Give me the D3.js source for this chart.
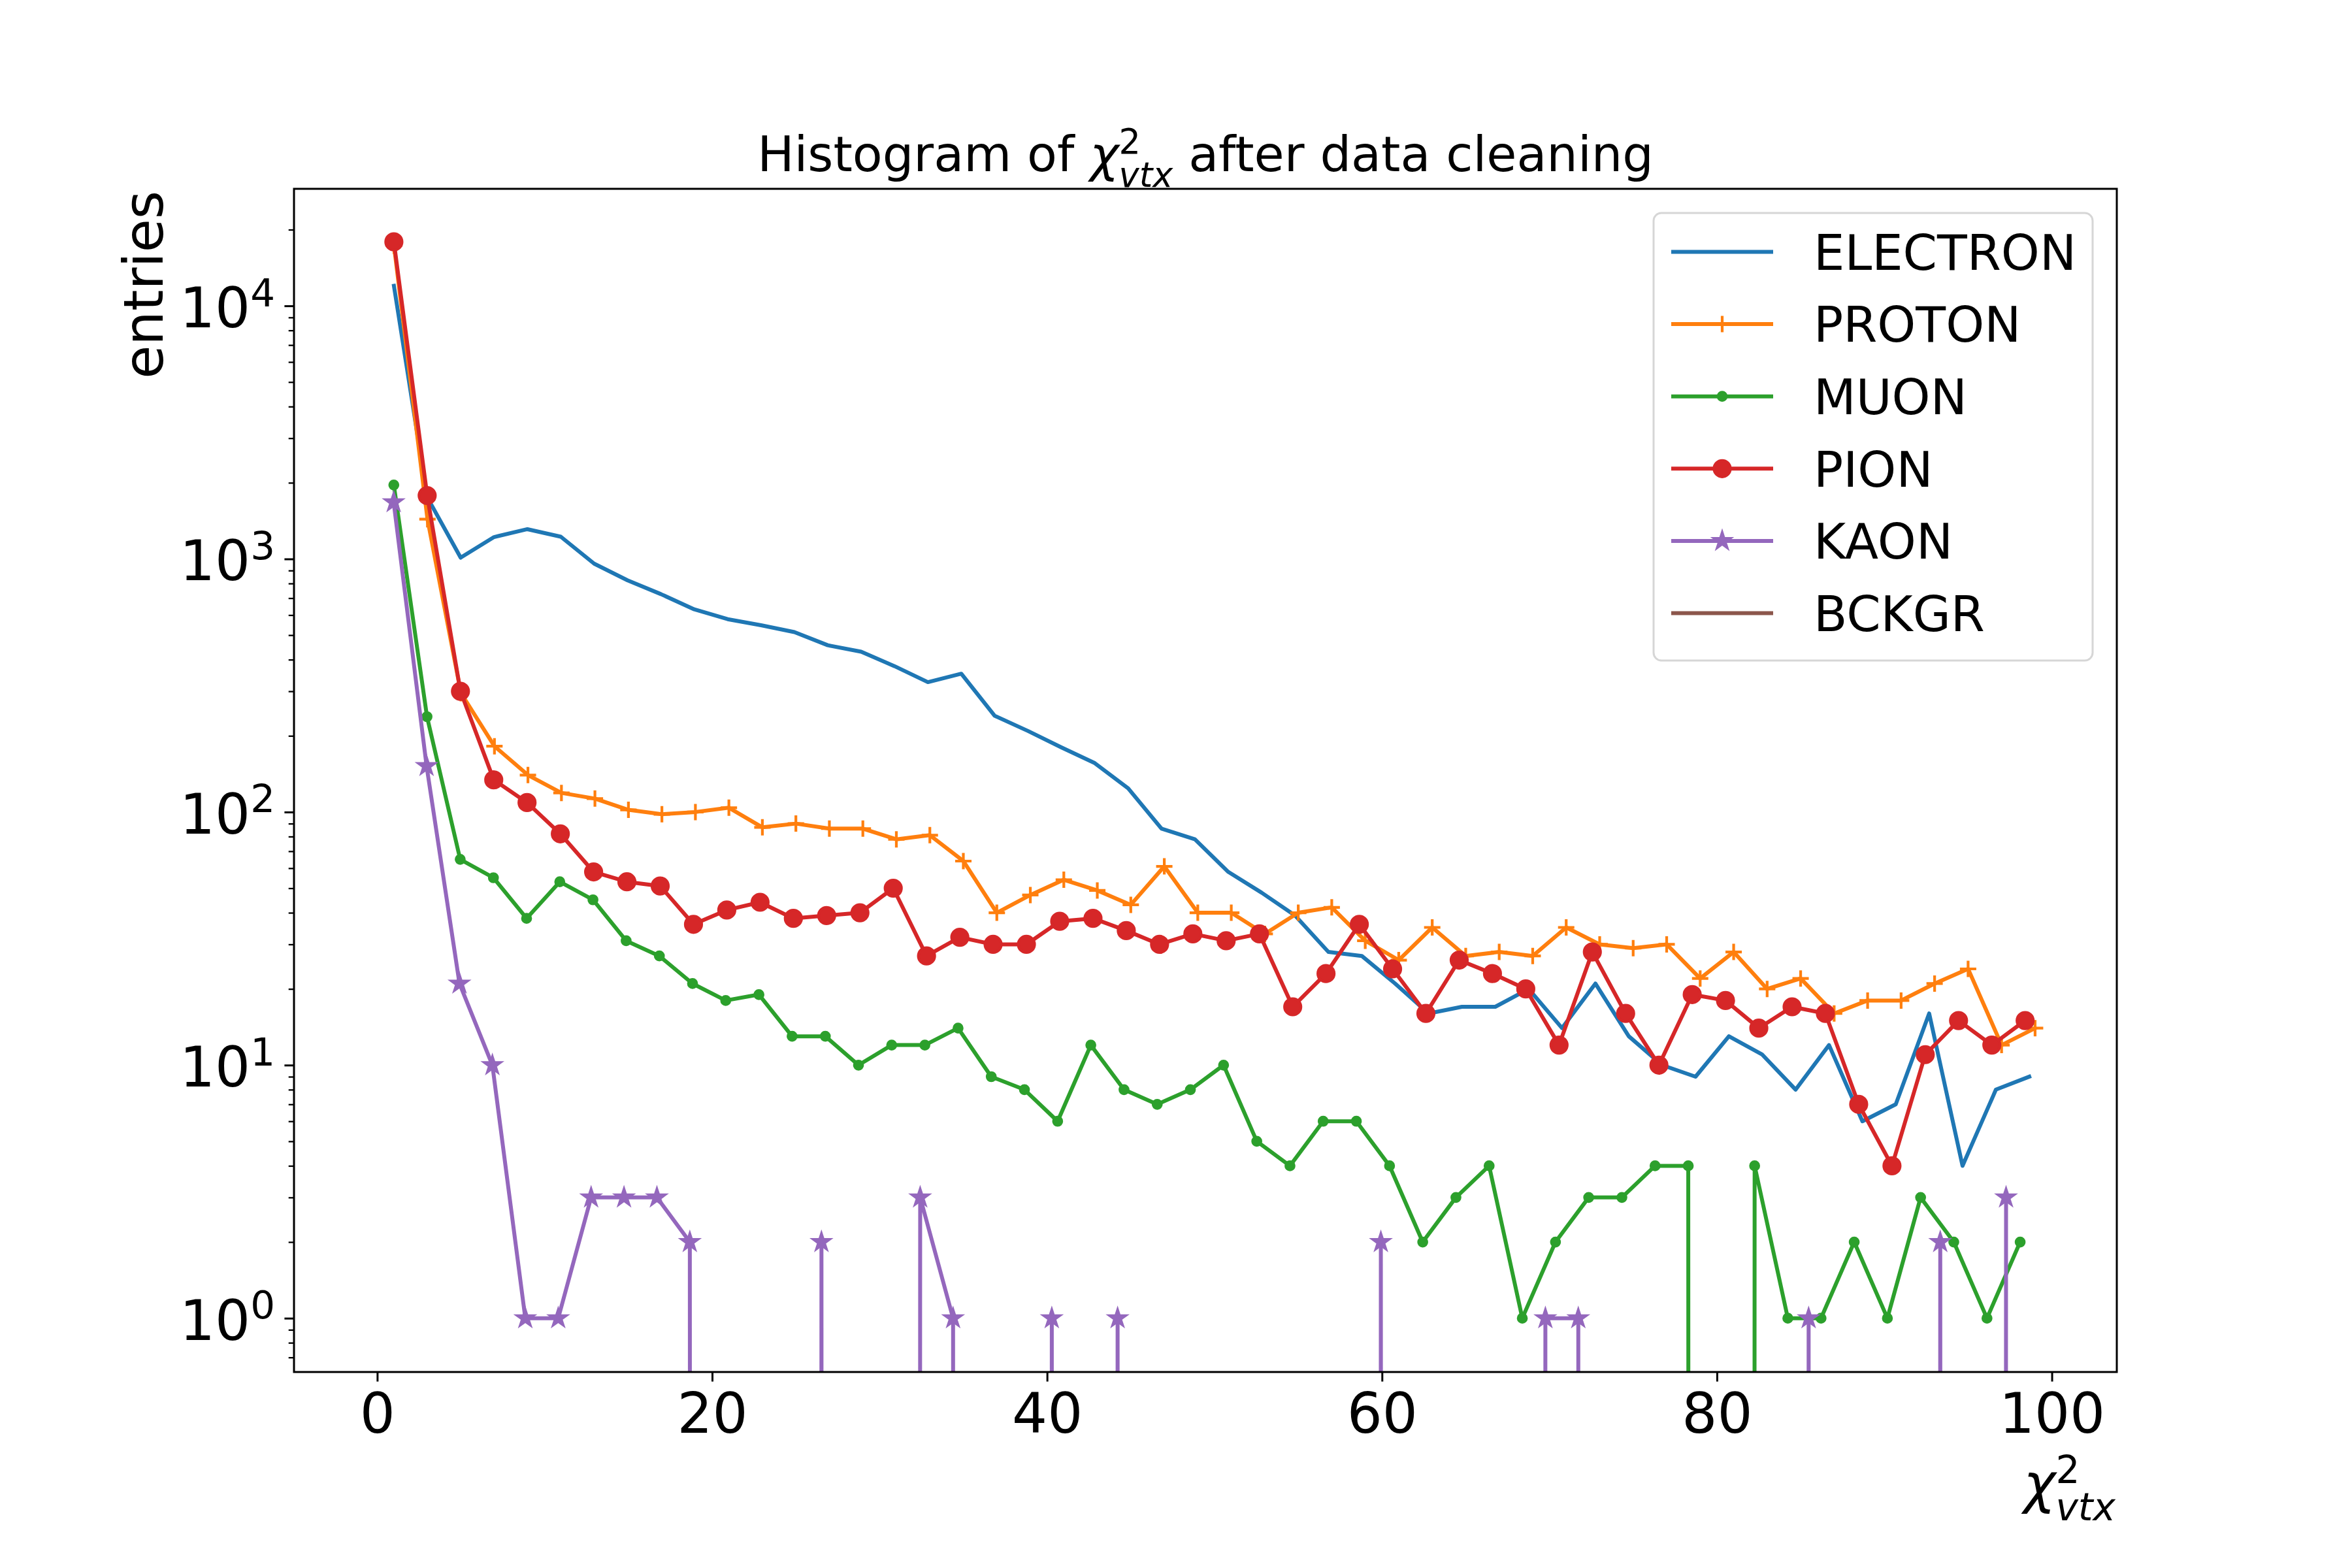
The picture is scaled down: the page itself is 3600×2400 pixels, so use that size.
<!DOCTYPE html>
<html>
<head>
<meta charset="utf-8">
<script src="https://cdn.jsdelivr.net/npm/d3@7"></script>
<style>
  body { margin: 0; background: #fff; }
  text { font-family: "DejaVu Sans", sans-serif; fill: #000; white-space: pre; }
</style>
</head>
<body>
<div id="chart"></div>
<script>
// histogram counts per bin (50 bins each)
const electron = [12000, 1750, 1012, 1220, 1311, 1224, 958, 823, 726, 632, 578, 547, 514, 456, 430, 377, 326, 352, 240, 209, 180, 156, 124, 86, 78, 58, 48, 39, 28, 27, 21, 16, 17, 17, 20, 14, 21, 13, 10, 9, 13, 11, 8, 12, 6, 7, 16, 4, 8, 9];
const proton = [17300, 1436, 295, 182, 140, 119, 113, 102, 98, 100, 104, 87, 90, 86, 86, 78, 81, 64, 40, 47, 54, 49, 43, 61, 40, 40, 33, 40, 42, 31, 26, 35, 27, 28, 27, 35, 30, 29, 30, 22, 28, 20, 22, 16, 18, 18, 21, 24, 12, 14];
const muon = [1960, 238, 65, 55, 38, 53, 45, 31, 27, 21, 18, 19, 13, 13, 10, 12, 12, 14, 9, 8, 6, 12, 8, 7, 8, 10, 5, 4, 6, 6, 4, 2, 3, 4, 1, 2, 3, 3, 4, 4, 0, 4, 1, 1, 2, 1, 3, 2, 1, 2];
const pion = [17900, 1780, 300, 134, 109, 82, 58, 53, 51, 36, 41, 44, 38, 39, 40, 50, 27, 32, 30, 30, 37, 38, 34, 30, 33, 31, 33, 17, 23, 36, 24, 16, 26, 23, 20, 12, 28, 16, 10, 19, 18, 14, 17, 16, 7, 4, 11, 15, 12, 15];
const kaon = [1675, 152, 21, 10, 1, 1, 3, 3, 3, 2, 0, 0, 0, 2, 0, 0, 3, 1, 0, 0, 1, 0, 1, 0, 0, 0, 0, 0, 0, 0, 2, 0, 0, 0, 0, 1, 1, 0, 0, 0, 0, 0, 0, 1, 0, 0, 0, 2, 0, 3];
const bckgr = [0, 0, 0, 0, 0, 0, 0, 0, 0, 0, 0, 0, 0, 0, 0, 0, 0, 0, 0, 0, 0, 0, 0, 0, 0, 0, 0, 0, 0, 0, 0, 0, 0, 0, 0, 0, 0, 0, 0, 0, 0, 0, 0, 0, 0, 0, 0, 0, 0, 0];

const seriesNames = ["ELECTRON", "PROTON", "MUON", "PION", "KAON", "BCKGR"];
// each particle got its own np.histogram range, so bin widths differ
const binWidths = [1.993, 2.0, 1.982, 1.988, 1.965, 2.0];
const xTicks = [0, 20, 40, 60, 80, 100];
const yMajorTicks = [1, 10, 100, 1000, 10000];

const colors = ["#1f77b4", "#ff7f0e", "#2ca02c", "#d62728", "#9467bd", "#8c564b"];
const markers = [null, "plus", "point", "circle", "star", null];

const width = 3600, height = 2400;
const margin = {left: 450, right: 360, top: 289, bottom: 300};
const lineWidth = 6, edgeWidth = 4.2;

const svg = d3.select("#chart").append("svg")
    .attr("width", width)
    .attr("height", height);

svg.append("rect").attr("width", width).attr("height", height).attr("fill", "#fff");

const xScale = d3.scaleLinear()
    .domain([-4.97, 103.88])
    .range([margin.left, width - margin.right]);

const yScale = d3.scaleLog()
    .domain([0.613, 29000])
    .range([height - margin.bottom, margin.top]);

// matplotlib "clip" for non-positive counts on log axes
const clipValue = v => v > 0 ? v : 1e-300;

svg.append("defs").append("clipPath").attr("id", "plot-area")
    .append("rect")
    .attr("x", margin.left).attr("y", margin.top)
    .attr("width", width - margin.left - margin.right)
    .attr("height", height - margin.top - margin.bottom);

function drawMarker(g, kind, color) {
    if (kind === "plus") {
        g.append("path").attr("d", "M-12.5,0H12.5M0,-12.5V12.5")
            .attr("stroke", color).attr("stroke-width", edgeWidth).attr("fill", "none");
    } else if (kind === "point") {
        g.append("circle").attr("r", 6.25)
            .attr("fill", color).attr("stroke", color).attr("stroke-width", edgeWidth);
    } else if (kind === "circle") {
        g.append("circle").attr("r", 12.5)
            .attr("fill", color).attr("stroke", color).attr("stroke-width", edgeWidth);
    } else if (kind === "star") {
        const pts = [];
        for (let i = 0; i < 10; i++) {
            const r = i % 2 === 0 ? 12.5 : 12.5 * 0.381966;
            const a = -Math.PI / 2 + i * Math.PI / 5;
            pts.push([r * Math.cos(a), r * Math.sin(a)]);
        }
        g.append("path").attr("d", "M" + pts.join("L") + "Z")
            .attr("fill", color).attr("stroke", color)
            .attr("stroke-width", edgeWidth).attr("stroke-linejoin", "miter");
    }
}

const allSeries = [electron, proton, muon, pion, kaon, bckgr];

const plot = svg.append("g").attr("clip-path", "url(#plot-area)");

allSeries.forEach((values, si) => {
    const w = binWidths[si];
    const pts = values.map((v, k) => ({x: (k + 0.5) * w, v: v}));
    const line = d3.line()
        .x(d => xScale(d.x))
        .y(d => yScale(clipValue(d.v)));

    const g = plot.append("g");
    g.append("path")
        .datum(pts)
        .attr("d", line)
        .attr("fill", "none")
        .attr("stroke", colors[si])
        .attr("stroke-width", lineWidth)
        .attr("stroke-linejoin", "round")
        .attr("stroke-linecap", "square");

    if (markers[si]) {
        pts.filter(d => d.v > 0).forEach(d => {
            const mg = g.append("g")
                .attr("transform", `translate(${xScale(d.x)},${yScale(d.v)})`);
            drawMarker(mg, markers[si], colors[si]);
        });
    }
});

// x axis
const gX = svg.append("g")
    .attr("transform", `translate(0,${height - margin.bottom})`)
    .call(d3.axisBottom(xScale).tickValues(xTicks).tickSize(14.6).tickFormat(""));
gX.select(".domain").remove();
gX.selectAll(".tick line").attr("stroke", "#000").attr("stroke-width", 3);
gX.selectAll(".tick").append("text")
    .attr("y", 93)
    .attr("text-anchor", "middle")
    .attr("font-size", 85)
    .text(d => d);

// y axis, major + minor ticks
const yMinorTicks = [];
for (let e = -1; e <= 4; e++) {
    for (let m = 2; m <= 9; m++) {
        const v = m * Math.pow(10, e);
        if (v >= yScale.domain()[0] && v <= yScale.domain()[1]) yMinorTicks.push(v);
    }
}
const gYMinor = svg.append("g")
    .attr("transform", `translate(${margin.left},0)`)
    .call(d3.axisLeft(yScale).tickValues(yMinorTicks).tickSize(8.3).tickFormat(""));
gYMinor.select(".domain").remove();
gYMinor.selectAll(".tick line").attr("stroke", "#000").attr("stroke-width", 2.3);

const gY = svg.append("g")
    .attr("transform", `translate(${margin.left},0)`)
    .call(d3.axisLeft(yScale).tickValues(yMajorTicks).tickSize(14.6).tickFormat(""));
gY.select(".domain").remove();
gY.selectAll(".tick line").attr("stroke", "#000").attr("stroke-width", 3);
const yLabels = gY.selectAll(".tick").append("text")
    .attr("x", -29)
    .attr("y", 32.4)
    .attr("text-anchor", "end")
    .attr("font-size", 85);
yLabels.append("tspan").text("10");
yLabels.append("tspan")
    .attr("dy", -32.4)
    .attr("font-size", 59.5)
    .text(d => Math.round(Math.log10(d)));

// spines
svg.append("rect")
    .attr("x", margin.left).attr("y", margin.top)
    .attr("width", width - margin.left - margin.right)
    .attr("height", height - margin.top - margin.bottom)
    .attr("fill", "none")
    .attr("stroke", "#000")
    .attr("stroke-width", 3);

// chi^2_vtx inside one text element: sup and sub stacked by stepping back with dx
function appendChi(text, size, before, after) {
    const probe = svg.append("text").attr("font-size", size * 0.7).text("2");
    const supW = probe.node().getComputedTextLength();
    probe.remove();
    const supUp = size * 0.36, subDown = size * 0.32;
    if (before) text.append("tspan").text(before);
    text.append("tspan").attr("font-style", "italic").text("χ");
    text.append("tspan").attr("font-size", size * 0.7).attr("dy", -supUp).text("2");
    text.append("tspan").attr("font-size", size * 0.7).attr("font-style", "italic")
        .attr("dx", -supW).attr("dy", supUp + subDown).text("vtx");
    if (after) text.append("tspan").attr("dy", -subDown).text(after);
}

// title
const title = svg.append("text")
    .attr("x", (margin.left + width - margin.right) / 2)
    .attr("y", 262)
    .attr("text-anchor", "middle")
    .attr("font-size", 75);
appendChi(title, 75, "Histogram of ", " after data cleaning");

// x label, right aligned
const xLabel = svg.append("text")
    .attr("x", width - margin.right - 2)
    .attr("y", 2300)
    .attr("text-anchor", "end")
    .attr("font-size", 83);
appendChi(xLabel, 83, null, null);

// y label, top aligned
svg.append("text")
    .attr("transform", `translate(249,${margin.top + 3}) rotate(-90)`)
    .attr("text-anchor", "end")
    .attr("font-size", 83)
    .text("entries");

// legend
const legend = svg.append("g");
legend.append("rect")
    .attr("x", 2531).attr("y", 326)
    .attr("width", 672).attr("height", 685)
    .attr("rx", 12).attr("ry", 12)
    .attr("fill", "#fff").attr("fill-opacity", 0.8)
    .attr("stroke", "#d6d6d6").attr("stroke-width", 3);

seriesNames.forEach((name, i) => {
    const cy = 385.5 + i * 110.6;
    const row = legend.append("g").attr("transform", `translate(0,${cy})`);
    row.append("line")
        .attr("x1", 2558).attr("x2", 2714)
        .attr("stroke", colors[i]).attr("stroke-width", lineWidth);
    if (markers[i]) {
        drawMarker(row.append("g").attr("transform", "translate(2636,0)"), markers[i], colors[i]);
    }
    row.append("text")
        .attr("x", 2776).attr("y", 27.3)
        .attr("font-size", 75)
        .text(name);
});
</script>
</body>
</html>
